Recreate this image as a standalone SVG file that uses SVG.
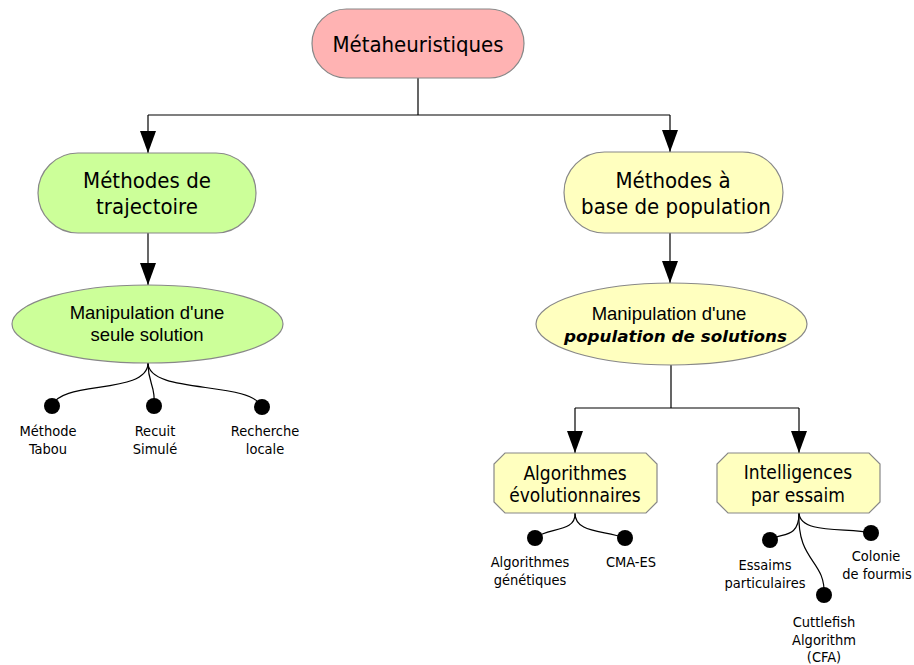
<svg xmlns="http://www.w3.org/2000/svg" width="914" height="665" viewBox="0 0 914 665">
<style>
.n{stroke:#888;stroke-width:1.2}
.pink{fill:#ffb3b3}.green{fill:#ccff99}.yellow{fill:#ffffbf}
.t{font-family:"DejaVu Sans Condensed","DejaVu Sans",sans-serif;font-stretch:condensed;fill:#000;text-anchor:middle}
.a{font-family:"Liberation Sans",Arial,sans-serif;fill:#000;text-anchor:middle}
.big{font-size:22px}.mid{font-size:19px}.small{font-size:14.5px}
.c{fill:none;stroke:#000;stroke-width:1.2}
.dot{fill:#000}
</style>
<defs>
<marker id="arr" markerUnits="userSpaceOnUse" markerWidth="22" markerHeight="16" refX="22" refY="8" orient="auto">
<path d="M0,0 L22,8 L0,16 z" fill="#000"/>
</marker>
</defs>
<g id="connectors">
<path class="c" d="M418,78 V115 M148,115 H670"/>
<path class="c" d="M148,115 V153" marker-end="url(#arr)"/>
<path class="c" d="M670,115 V152" marker-end="url(#arr)"/>
<path class="c" d="M148,233 V285" marker-end="url(#arr)"/>
<path class="c" d="M670,233 V283" marker-end="url(#arr)"/>
<path class="c" d="M671,365 V408 M575,408 H799"/>
<path class="c" d="M575,408 V453" marker-end="url(#arr)"/>
<path class="c" d="M799,408 V453" marker-end="url(#arr)"/>
<path class="c" d="M148,363 C148,395 60,380 52,406"/>
<path class="c" d="M148,363 C148,385 156,385 154,406"/>
<path class="c" d="M148,363 C149,395 250,380 262,407"/>
<path class="c" d="M575,513 C576,533 548,527 535,538"/>
<path class="c" d="M575,513 C575,533 602,530 625,538"/>
<path class="c" d="M799,513 C799,540 780,532 770,540"/>
<path class="c" d="M799,513 C797,562 826,560 824,595"/>
<path class="c" d="M799,513 C800,535 850,527 871,533"/>
</g>
<g id="metaheuristiques">
<rect class="n pink" x="312" y="9" width="212" height="69" rx="34.5"/>
<text class="t big" x="418" y="52">Métaheuristiques</text>
</g>
<g id="trajectoire">
<rect class="n green" x="38" y="153" width="218" height="80" rx="40"/>
<text class="t big" x="147" y="188">Méthodes de</text>
<text class="t big" x="147" y="214">trajectoire</text>
</g>
<g id="population">
<rect class="n yellow" x="564" y="152" width="219" height="81" rx="40.5"/>
<text class="t big" x="673" y="188">Méthodes à</text>
<text class="t big" x="676" y="214">base de population</text>
</g>
<g id="seule-solution">
<ellipse class="n green" cx="147.5" cy="324" rx="135.5" ry="39"/>
<text class="a" font-size="18.5" x="147" y="319">Manipulation d'une</text>
<text class="a" font-size="18.5" x="147" y="341">seule solution</text>
</g>
<g id="pop-solutions">
<ellipse class="n yellow" cx="671.5" cy="324" rx="135.5" ry="41"/>
<text class="a" font-size="18.5" x="669" y="320">Manipulation d'une</text>
<text x="675.5" y="342" font-family="'DejaVu Sans',sans-serif" font-size="16.5" font-weight="bold" font-style="italic" text-anchor="middle" textLength="223" lengthAdjust="spacingAndGlyphs">population de solutions</text>
</g>
<g id="evolutionnaires">
<polygon class="n yellow" points="505,453 646,453 657,464 657,502 646,513 505,513 494,502 494,464"/>
<text class="t mid" x="575" y="480">Algorithmes</text>
<text class="t mid" x="575" y="502">évolutionnaires</text>
</g>
<g id="essaim">
<polygon class="n yellow" points="728,453 869,453 880,464 880,502 869,513 728,513 717,502 717,464"/>
<text class="t mid" x="798" y="479">Intelligences</text>
<text class="t mid" x="798" y="502">par essaim</text>
</g>
<g id="tabou">
<circle class="dot" cx="52" cy="406" r="8"/>
<text class="t small" x="48" y="436">Méthode</text>
<text class="t small" x="48" y="454">Tabou</text>
</g>
<g id="recuit">
<circle class="dot" cx="154" cy="406" r="8"/>
<text class="t small" x="155" y="436">Recuit</text>
<text class="t small" x="155" y="454">Simulé</text>
</g>
<g id="recherche">
<circle class="dot" cx="262" cy="407" r="8"/>
<text class="t small" x="265" y="436">Recherche</text>
<text class="t small" x="265" y="454">locale</text>
</g>
<g id="genetiques">
<circle class="dot" cx="535" cy="538" r="8"/>
<text class="t small" x="530" y="567">Algorithmes</text>
<text class="t small" x="530" y="585">génétiques</text>
</g>
<g id="cma-es">
<circle class="dot" cx="625" cy="538" r="8"/>
<text class="t small" x="631" y="567">CMA-ES</text>
</g>
<g id="essaims-particulaires">
<circle class="dot" cx="770" cy="540" r="8"/>
<text class="t small" x="765" y="570">Essaims</text>
<text class="t small" x="765" y="588">particulaires</text>
</g>
<g id="cuttlefish">
<circle class="dot" cx="824" cy="595" r="8"/>
<text class="t small" x="824" y="627">Cuttlefish</text>
<text class="t small" x="824" y="645">Algorithm</text>
<text class="t small" x="824" y="662">(CFA)</text>
</g>
<g id="fourmis">
<circle class="dot" cx="871" cy="533" r="8"/>
<text class="t small" x="876" y="561">Colonie</text>
<text class="t small" x="877" y="579">de fourmis</text>
</g>
</svg>
